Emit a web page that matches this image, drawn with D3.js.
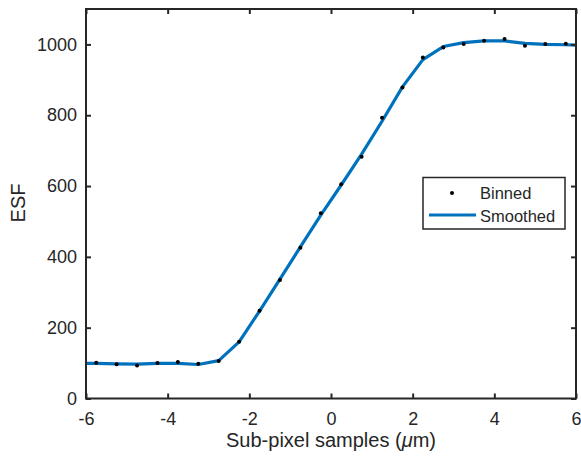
<!DOCTYPE html>
<html><head><meta charset="utf-8">
<script src="https://cdn.jsdelivr.net/npm/d3@7"></script>
<style>
html,body{margin:0;padding:0;background:#fff;}
svg text{font-family:"Liberation Sans",Arial,Helvetica,sans-serif;fill:#262626;}
</style></head>
<body>
<svg id="chart" width="581" height="461"></svg>
<script>
const binnedX = [-5.75,-5.25,-4.75,-4.25,-3.75,-3.25,-2.75,-2.25,-1.75,-1.25,-0.75,-0.25,0.25,0.75,1.25,1.75,2.25,2.75,3.25,3.75,4.25,4.75,5.25,5.75];
const binnedY = [101,97,93,100,103,98,106,160,248,335,426,523,605,683,793,878,963,991,1001,1010,1015,996,1001,1002];
const smoothX = [-6,-5.75,-5.25,-4.75,-4.25,-3.75,-3.25,-2.75,-2.25,-1.75,-1.25,-0.75,-0.25,0.25,0.75,1.25,1.75,2.25,2.75,3.25,3.75,4.25,4.75,5.25,5.75,6];
const smoothY = [99,99,98,97,99,99,96,107,160,247,337,428,518,603,690,783,880,957,994,1005,1010,1010,1003,1000,999,998];
const xTicks = [-6,-4,-2,0,2,4,6];
const yTicks = [0,200,400,600,800,1000];
const xLabelParts = ["Sub-pixel samples (", "\u03bc", "m)"];
const yLabel = "ESF";
const legendLabels = ["Binned","Smoothed"];

const svg = d3.select("#chart");
const L = 86, R = 576, T = 9, B = 398.5;
const x = d3.scaleLinear().domain([-6,6]).range([L,R]);
const y = d3.scaleLinear().domain([0,1100]).range([B,T]);
const axisColor = "#262626";
const blue = "#0072BD";
const fs = 18;

// data
const line = d3.line().x((d,i)=>x(smoothX[i])).y(d=>y(d));
svg.append("path").datum(smoothY).attr("d",line)
  .attr("fill","none").attr("stroke",blue).attr("stroke-width",3.2).attr("stroke-linejoin","round");
svg.append("g").selectAll("circle").data(binnedY).join("circle")
  .attr("cx",(d,i)=>x(binnedX[i])).attr("cy",d=>y(d)).attr("r",2).attr("fill","#000");

// axes
const tk = 5;
const gx = svg.append("g").attr("transform",`translate(0,${B})`)
  .call(d3.axisBottom(x).tickValues(xTicks).tickSizeInner(-tk).tickSizeOuter(0).tickFormat(d3.format("d")));
const gxt = svg.append("g").attr("transform",`translate(0,${T})`)
  .call(d3.axisTop(x).tickValues(xTicks).tickSizeInner(-tk).tickSizeOuter(0).tickFormat(""));
const gy = svg.append("g").attr("transform",`translate(${L},0)`)
  .call(d3.axisLeft(y).tickValues(yTicks).tickSizeInner(-tk).tickSizeOuter(0).tickPadding(9).tickFormat(d3.format("d")));
const gyr = svg.append("g").attr("transform",`translate(${R},0)`)
  .call(d3.axisRight(y).tickValues(yTicks).tickSizeInner(-tk).tickSizeOuter(0).tickFormat(""));
[gx,gxt,gy,gyr].forEach(g=>{
  g.selectAll(".domain").remove();
  g.selectAll("line").attr("stroke",axisColor).attr("stroke-width",2);
  g.selectAll("text").attr("font-size",fs).attr("fill",axisColor)
    .style("font-family","'Liberation Sans',Arial,sans-serif");
});
gx.selectAll("text").attr("dy",0).attr("y",26.5).text(d=>d<0?"-"+Math.abs(d):d);
gy.selectAll("text").text(d=>d);
svg.append("rect").attr("x",L).attr("y",T).attr("width",R-L).attr("height",B-T)
  .attr("fill","none").attr("stroke",axisColor).attr("stroke-width",2);

// labels
const xl = svg.append("text").attr("x",(L+R)/2).attr("y",447).attr("text-anchor","middle")
  .attr("font-size",20);
xl.selectAll("tspan").data(xLabelParts).join("tspan")
  .attr("font-style",(d,i)=>i===1?"italic":"normal").text(d=>d);
svg.append("text").attr("transform","translate(25,203) rotate(-90)").attr("text-anchor","middle")
  .attr("font-size",20).text(yLabel);

// legend
const lg = svg.append("g");
lg.append("rect").attr("x",423).attr("y",177.5).attr("width",142).attr("height",51.5)
  .attr("fill","#fff").attr("stroke",axisColor).attr("stroke-width",1.5);
lg.append("circle").attr("cx",452).attr("cy",193).attr("r",2).attr("fill","#000");
lg.append("line").attr("x1",429).attr("x2",476).attr("y1",215).attr("y2",215)
  .attr("stroke",blue).attr("stroke-width",3.2);
lg.append("text").attr("x",480).attr("y",199).attr("font-size",16.5).text(legendLabels[0]);
lg.append("text").attr("x",480).attr("y",222).attr("font-size",16.5).text(legendLabels[1]);
</script>
</body></html>
